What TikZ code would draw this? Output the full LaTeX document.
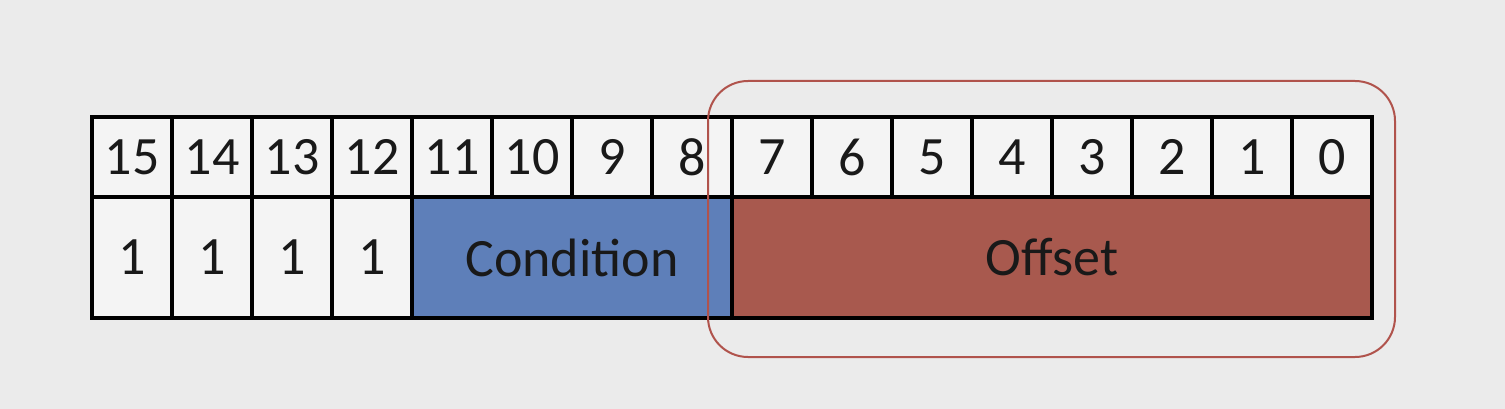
\documentclass[tikz,border=0pt]{standalone}
\usepackage{fontspec}
\setmainfont{Carlito}
\definecolor{bgc}{HTML}{EBEBEB}
\definecolor{cellc}{HTML}{F4F4F4}
\definecolor{condc}{HTML}{5E7FB9}
\definecolor{offc}{HTML}{A8594E}
\definecolor{ringc}{HTML}{B0534C}
\tikzset{
  cell/.style={draw=black, line width=4pt, fill=cellc, minimum width=80pt, inner sep=0pt, font=\fontsize{54}{62}\selectfont, text=black!90},
  toprow/.style={cell, minimum height=80pt},
  botrow/.style={cell, minimum height=121pt},
  ring/.style={draw=ringc, line width=2pt, rounded corners=40pt, minimum width=687pt, minimum height=276pt, inner sep=0pt}
}
\begin{document}
\begin{tikzpicture}[x=1pt,y=-1pt]
\fill[bgc] (0,0) rectangle (1505,409);
\useasboundingbox (0,0) rectangle (1505,409);
\foreach \i in {0,...,15}{
  \pgfmathtruncatemacro{\b}{15-\i}
  \node[toprow] (t\b) at (132+80*\i,157) {\b};
}
\foreach \i in {0,...,3}{
  \pgfmathtruncatemacro{\b}{15-\i}
  \node[botrow] (b\b) at (132+80*\i,257.5) {1};
}
\node[botrow, fill=condc, minimum width=320pt] (cond) at (572,257.5) {Condition};
\node[botrow, fill=offc, minimum width=640pt] (off) at (1052,257.5) {Offset};
\node[ring] (sel) at (1051.5,219) {};
\end{tikzpicture}
\end{document}
